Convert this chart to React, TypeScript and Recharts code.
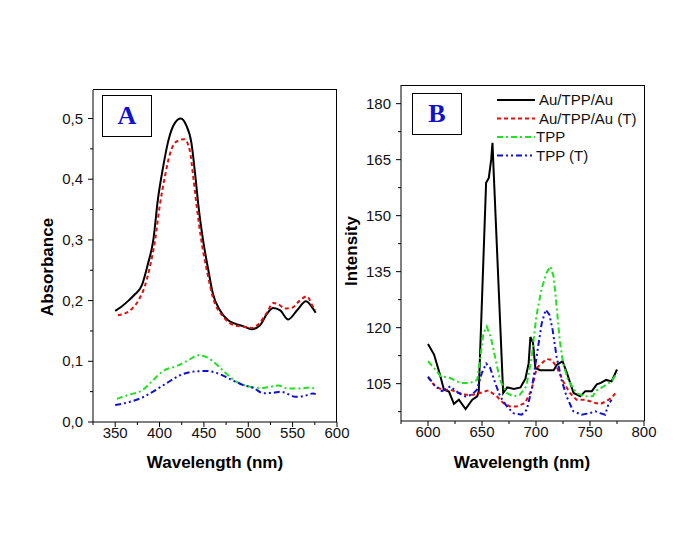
import { LineChart, Line, XAxis, YAxis, Legend } from "recharts"

// Panel A: absorbance spectra
const aAuTppAuX = [350, 357, 365, 372, 380, 387, 393, 398, 404, 410, 417, 424, 430, 436, 440, 444, 449, 455, 460, 468, 477, 485, 494, 504, 513, 521, 528, 536, 545, 555, 565, 572, 576]
const aAuTppAuY = [0.183, 0.19, 0.2, 0.21, 0.225, 0.261, 0.3, 0.365, 0.42, 0.464, 0.492, 0.5, 0.489, 0.459, 0.41, 0.354, 0.3, 0.25, 0.212, 0.184, 0.168, 0.162, 0.158, 0.153, 0.159, 0.178, 0.188, 0.184, 0.169, 0.184, 0.199, 0.189, 0.18]

const aAuTppAuTX = [353, 364, 376, 383, 389, 395, 400, 406, 412, 419, 428, 434, 438, 442, 447, 454, 460, 472, 485, 495, 504, 512, 521, 528, 535, 541, 549, 558, 566, 573, 576]
const aAuTppAuTY = [0.176, 0.181, 0.2, 0.222, 0.255, 0.3, 0.354, 0.404, 0.443, 0.462, 0.466, 0.448, 0.404, 0.354, 0.3, 0.245, 0.206, 0.173, 0.159, 0.157, 0.155, 0.162, 0.18, 0.196, 0.193, 0.187, 0.188, 0.2, 0.207, 0.19, 0.185]

const aTppX = [352, 357, 366, 381, 392, 404, 419, 434, 443, 453, 464, 475, 487, 500, 515, 525, 534, 545, 558, 569, 576]
const aTppY = [0.038, 0.041, 0.045, 0.053, 0.068, 0.084, 0.092, 0.103, 0.11, 0.107, 0.095, 0.08, 0.066, 0.059, 0.056, 0.058, 0.06, 0.055, 0.055, 0.057, 0.054]

const aTppTX = [350, 366, 383, 396, 408, 423, 438, 453, 464, 479, 494, 506, 517, 528, 536, 545, 553, 563, 573, 576]
const aTppTY = [0.028, 0.033, 0.042, 0.053, 0.064, 0.077, 0.083, 0.084, 0.081, 0.071, 0.061, 0.056, 0.0475, 0.048, 0.05, 0.046, 0.0415, 0.043, 0.047, 0.046]

// Panel B: emission spectra
const bAuTppAuX = [600, 605.6, 610.2, 614.8, 619.4, 624, 628.6, 634.8, 641, 645.6, 647, 653.8, 656.3, 658.5, 659.7, 661, 669.6, 673.3, 679.5, 685.6, 690.2, 693.2, 694.8, 697.2, 699.4, 704, 716.3, 719.4, 724.6, 728.6, 734.8, 741, 745.6, 751.7, 756.3, 760, 765, 770, 775]
const bAuTppAuY = [115.6, 112.8, 108.3, 103.4, 102.9, 99.6, 100.7, 98.2, 100.7, 101.6, 103, 158.8, 160.1, 165, 169.5, 160.5, 102.5, 104, 103.6, 104, 106.3, 110.5, 117.5, 116, 109.2, 108.6, 108.6, 110.1, 111, 107.9, 102.5, 101.6, 103, 103, 104.8, 105.2, 106, 105.6, 108.8]

const bAuTppAuTX = [600, 606.7, 612.9, 620.6, 628.3, 636, 642, 648, 656, 663.7, 669.8, 676, 682, 689.8, 696, 700.6, 709.8, 714.4, 719, 725.2, 731.3, 737.5, 745, 750, 755, 760, 765, 770, 775]
const bAuTppAuTY = [106.7, 104.3, 103.4, 103.4, 102.5, 102, 102, 102.5, 103.2, 101.6, 99.8, 98.9, 98.9, 99.8, 103.4, 109.2, 111.6, 111.4, 109.6, 105.6, 102.5, 100.7, 100.7, 100.3, 99.8, 99.6, 100.3, 101.2, 103]

const bTppX = [600, 605.6, 611.7, 620.6, 629.9, 639, 645.6, 648.5, 651.3, 654.4, 658, 662, 666.6, 672.8, 679, 685, 691, 695.7, 700.3, 705, 709.6, 713.3, 716.3, 718.8, 721.9, 725, 729.6, 737.3, 745, 752.7, 755, 760, 765, 770, 775]
const bTppY = [111, 109.2, 107, 106.5, 105.2, 105.2, 106, 112.3, 118.5, 120.3, 117.6, 112.3, 106, 102.5, 101.6, 102, 104.3, 111.4, 123, 130.2, 134.6, 136.4, 133.7, 126.6, 116.8, 110.5, 106, 102.5, 101.6, 101.6, 103, 103.8, 104.7, 105.6, 107.9]

const bTppTX = [600, 606.7, 612.9, 620.6, 628.3, 634.5, 640.6, 645.3, 649.9, 653.9, 657.6, 662.2, 666.8, 673, 679, 686.8, 691.4, 696, 700.6, 705.3, 709, 712.4, 715.4, 719, 723.7, 728.3, 734.5, 742.2, 749.9, 755, 759.4, 764, 767, 770]
const bTppTY = [106.9, 104.3, 103, 104.3, 102.5, 101.6, 102, 103.4, 107.9, 110.4, 109.2, 105.2, 101.6, 98.9, 97.1, 96.7, 98, 103.4, 112.3, 121.2, 124.8, 123.5, 119.4, 112.3, 106, 101.6, 97.6, 96.7, 97.1, 97.6, 97.1, 96.7, 99.4, 100.7]

const aXDomain = [325, 600]
const aYDomain = [0, 0.547]
const aXMajor = [350, 400, 450, 500, 550, 600]
const aXMinor = [325, 375, 425, 475, 525, 575]
const aYMajor = [0, 0.1, 0.2, 0.3, 0.4, 0.5]
const aYMinor = [0.05, 0.15, 0.25, 0.35, 0.45]

const bXDomain = [575, 800]
const bYDomain = [95, 185]
const bXMajor = [600, 650, 700, 750, 800]
const bXMinor = [575, 625, 675, 725, 775]
const bYMajor = [105, 120, 135, 150, 165, 180]
const bYMinor = [97.5, 112.5, 127.5, 142.5, 157.5, 172.5]

const seriesNames = ["Au/TPP/Au", "Au/TPP/Au (T)", "TPP", "TPP (T)"]
const seriesColors = ["#000000", "#e01010", "#22e022", "#1010d0"]
const seriesDashes = ["", "4 3", "6 3 2 3", "6 3 2 3 2 3"]

const toPoints = (xs: number[], ys: number[]) => xs.map((x, i) => ({ x, y: ys[i] }))

const panelA = [
  toPoints(aAuTppAuX, aAuTppAuY),
  toPoints(aAuTppAuTX, aAuTppAuTY),
  toPoints(aTppX, aTppY),
  toPoints(aTppTX, aTppTY),
]
const panelB = [
  toPoints(bAuTppAuX, bAuTppAuY),
  toPoints(bAuTppAuTX, bAuTppAuTY),
  toPoints(bTppX, bTppY),
  toPoints(bTppTX, bTppTY),
]

const FONT = "Arial, 'Liberation Sans', sans-serif"

const XTick = ({ x, y, payload, majors }: any) => {
  const major = majors.includes(payload.value)
  return (
    <g>
      <line x1={x} y1={y} x2={x} y2={y + (major ? 5 : 3)} stroke="#000" strokeWidth={1} />
      {major && (
        <text x={x} y={y + 16} textAnchor="middle" fontSize={15} fontFamily={FONT} fill="#111">
          {payload.value}
        </text>
      )}
    </g>
  )
}

const YTick = ({ x, y, payload, majors, comma }: any) => {
  const major = majors.includes(payload.value)
  const label = comma ? payload.value.toFixed(1).replace(".", ",") : String(payload.value)
  return (
    <g>
      <line x1={x} y1={y} x2={x - (major ? 5 : 3)} y2={y} stroke="#000" strokeWidth={1} />
      {major && (
        <text x={x - 10} y={y + 5} textAnchor="end" fontSize={15} fontFamily={FONT} fill="#111">
          {label}
        </text>
      )}
    </g>
  )
}

const xTitle = (cx: number) => () => (
  <text x={cx} y={468} textAnchor="middle" fontSize={17} fontWeight="bold" fontFamily={FONT} fill="#000">
    Wavelength (nm)
  </text>
)

const yTitle = (value: string, x: number, y: number) => () => (
  <text x={x} y={y} transform={`rotate(-90 ${x} ${y})`} textAnchor="middle" fontSize={17} fontWeight="bold" fontFamily={FONT} fill="#000">
    {value}
  </text>
)

const LegendBox = () => (
  <svg width={150} height={80}>
    {seriesNames.map((name, i) => {
      const cy = 10 + i * 18.5
      return (
        <g key={name}>
          <line x1={0} y1={cy} x2={38} y2={cy} stroke={seriesColors[i]} strokeWidth={2} strokeDasharray={seriesDashes[i] || undefined} />
          <text x={i < 2 ? 42 : 39} y={cy + 5} fontSize={15} fontFamily={FONT} fill="#111">
            {name}
          </text>
        </g>
      )
    })}
  </svg>
)

const PanelTag = ({ letter, left, top }: { letter: string; left: number; top: number }) => (
  <div
    style={{
      position: "absolute",
      left,
      top,
      width: 48,
      height: 40,
      border: "1px solid #000",
      display: "flex",
      alignItems: "center",
      justifyContent: "center",
      fontFamily: "'Liberation Serif', 'Times New Roman', serif",
      fontWeight: "bold",
      fontSize: 26,
      color: "#1010d0",
      background: "#fff",
    }}
  >
    {letter}
  </div>
)

// top and right edges of the plot box
const Frame = ({ left, top, width, height }: { left: number; top: number; width: number; height: number }) => (
  <div
    style={{
      position: "absolute",
      left,
      top,
      width,
      height,
      boxSizing: "border-box",
      borderTop: "1px solid #000",
      borderRight: "1px solid #000",
      pointerEvents: "none",
    }}
  />
)

export default function App() {
  return (
    <div style={{ position: "absolute", left: 0, top: 0, width: 700, height: 540, background: "#fff", overflow: "hidden" }}>
      <div style={{ position: "absolute", left: 0, top: 0 }}>
        <LineChart width={350} height={540} margin={{ top: 90, right: 13, left: 0, bottom: 88 }}>
          <XAxis
            dataKey="x"
            type="number"
            domain={aXDomain}
            ticks={[...aXMajor, ...aXMinor].sort((p, q) => p - q)}
            interval={0}
            height={30}
            tickSize={0}
            tickMargin={0}
            tickLine={false}
            axisLine={{ stroke: "#000" }}
            tick={(props: any) => <XTick {...props} majors={aXMajor} />}
            allowDataOverflow
            label={{ content: xTitle(215) }}
          />
          <YAxis
            type="number"
            domain={aYDomain}
            ticks={[...aYMajor, ...aYMinor].sort((p, q) => p - q)}
            interval={0}
            width={93}
            tickSize={0}
            tickMargin={0}
            tickLine={false}
            axisLine={{ stroke: "#000" }}
            tick={(props: any) => <YTick {...props} majors={aYMajor} comma />}
            allowDataOverflow
            label={{ content: yTitle("Absorbance", 53, 267) }}
          />
          {panelA.map((pts, i) => (
            <Line
              key={seriesNames[i]}
              data={pts}
              dataKey="y"
              name={seriesNames[i]}
              type="monotone"
              stroke={seriesColors[i]}
              strokeWidth={2}
              strokeDasharray={seriesDashes[i] || undefined}
              dot={false}
              isAnimationActive={false}
            />
          ))}
        </LineChart>
      </div>
      <div style={{ position: "absolute", left: 330, top: 0 }}>
        <LineChart width={370} height={540} margin={{ top: 85, right: 56, left: 0, bottom: 89 }}>
          <XAxis
            dataKey="x"
            type="number"
            domain={bXDomain}
            ticks={[...bXMajor, ...bXMinor].sort((p, q) => p - q)}
            interval={0}
            height={30}
            tickSize={0}
            tickMargin={0}
            tickLine={false}
            axisLine={{ stroke: "#000" }}
            tick={(props: any) => <XTick {...props} majors={bXMajor} />}
            allowDataOverflow
            label={{ content: xTitle(192) }}
          />
          <YAxis
            type="number"
            domain={bYDomain}
            ticks={[...bYMajor, ...bYMinor].sort((p, q) => p - q)}
            interval={0}
            width={71}
            tickSize={0}
            tickMargin={0}
            tickLine={false}
            axisLine={{ stroke: "#000" }}
            tick={(props: any) => <YTick {...props} majors={bYMajor} />}
            allowDataOverflow
            label={{ content: yTitle("Intensity", 27, 251) }}
          />
          <Legend
            layout="horizontal"
            verticalAlign="middle"
            align="center"
            content={() => <LegendBox />}
            wrapperStyle={{ left: 167, top: 90, width: 150, height: 80 }}
          />
          {panelB.map((pts, i) => (
            <Line
              key={seriesNames[i]}
              data={pts}
              dataKey="y"
              name={seriesNames[i]}
              type="linear"
              stroke={seriesColors[i]}
              strokeWidth={2}
              strokeDasharray={seriesDashes[i] || undefined}
              dot={false}
              isAnimationActive={false}
            />
          ))}
        </LineChart>
      </div>
      <Frame left={93} top={89} width={244} height={333} />
      <Frame left={401} top={85} width={244} height={336} />
      <PanelTag letter="A" left={102} top={95} />
      <PanelTag letter="B" left={412} top={93} />
    </div>
  )
}
